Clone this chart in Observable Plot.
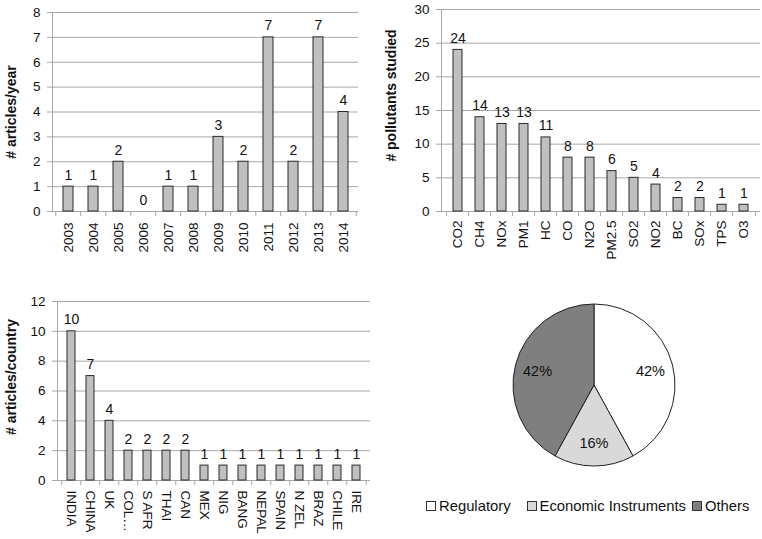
<!DOCTYPE html>
<html><head><meta charset="utf-8">
<script src="https://cdn.jsdelivr.net/npm/d3@7"></script>
<script src="https://cdn.jsdelivr.net/npm/@observablehq/plot@0.6"></script>
<style>
html,body{margin:0;padding:0;background:#fff;}
#wrap{position:relative;width:762px;height:539px;font-family:"Liberation Sans",Arial,sans-serif;}
.panel{position:absolute;}
#legend{position:absolute;left:426px;top:498px;font-size:14.8px;color:#111;white-space:nowrap;display:flex;align-items:center;}
#legend .sw{display:inline-block;width:8px;height:8px;border:1px solid #333;margin-right:3px;}
#legend .it{display:inline-flex;align-items:center;}
</style></head>
<body><div id="wrap"></div>
<script>
const years = ["2003","2004","2005","2006","2007","2008","2009","2010","2011","2012","2013","2014"];
const articlesPerYear = [1,1,2,0,1,1,3,2,7,2,7,4];
const pollutants = ["CO2","CH4","NOx","PM1","HC","CO","N2O","PM2.5","SO2","NO2","BC","SOx","TPS","O3"];
const pollutantCounts = [24,14,13,13,11,8,8,6,5,4,2,2,1,1];
const countries = ["INDIA","CHINA","UK","COL…","S AFR","THAI","CAN","MEX","NIG","BANG","NEPAL","SPAIN","N ZEL","BRAZ","CHILE","IRE"];
const countryCounts = [10,7,4,2,2,2,2,1,1,1,1,1,1,1,1,1];
const pieLabels = ["Regulatory","Economic Instruments","Others"];
const pieValues = [42,16,42];
const pieColors = ["#ffffff","#d9d9d9","#7f7f7f"];

const wrap = document.getElementById("wrap");
const FONT = '"Liberation Sans", Arial, sans-serif';

function barPanel({cats, vals, left, top, width, height, ml, mr, mt, mb, ymax, yticks, title, titleDx, titleDy, rotate, tickPad}) {
  const data = cats.map((c,i)=>({c, v: vals[i]}));
  const step = (width - ml - mr) / cats.length;
  const plotH = height - mt - mb;
  const grid = "#a8a8a8";
  const p = Plot.plot({
    width, height, marginLeft: ml, marginRight: mr, marginTop: mt, marginBottom: mb,
    style: {fontFamily: FONT, fontSize: "13.5px", color: "#111", background: "transparent", overflow: "visible"},
    x: {domain: cats, type: "band", paddingInner: 0.6, paddingOuter: 0.3, label: null},
    y: {domain: [0, ymax], label: null},
    marks: [
      Plot.gridY(yticks, {stroke: grid, strokeOpacity: 1}),
      Plot.frame({anchor: "left", stroke: grid}),
      Plot.axisY(yticks, {tickSize: 5, tickPadding: 7, stroke: grid, label: null, fontSize: 13.5}),
      Plot.axisX({tickSize: 0, tickPadding: tickPad, tickRotate: rotate, label: null, fontSize: 13.5}),
      Plot.ruleX(cats, {x: d=>d, dx: -step/2, insetTop: plotH, insetBottom: -5, stroke: grid}),
      Plot.ruleX([cats[cats.length-1]], {x: d=>d, dx: step/2, insetTop: plotH, insetBottom: -5, stroke: grid}),
      Plot.barY(data, {x: "c", y: "v", fill: "#c0c0c0", stroke: "#2a2a2a", strokeWidth: 1}),
      Plot.text(data, {x: "c", y: "v", text: d=>String(d.v), lineAnchor: "bottom", dy: -7, fontSize: 14, fill: "#111"}),
      Plot.text([title], {frameAnchor: "left", textAnchor: "middle", text: d=>d, rotate: -90, dx: titleDx, dy: titleDy, fontWeight: "bold", fontSize: 14, fill: "#111"})
    ]
  });
  p.classList.add("panel");
  p.style.left = left + "px"; p.style.top = top + "px";
  wrap.appendChild(p);
}

barPanel({cats: years, vals: articlesPerYear, left: 0, top: 0, width: 381, height: 262,
  ml: 52, mr: 23, mt: 12, mb: 51, ymax: 8, yticks: d3.range(0, 9, 1),
  title: "# articles/year", titleDx: -41, titleDy: 0, rotate: -90, tickPad: 11});

barPanel({cats: pollutants, vals: pollutantCounts, left: 381, top: 0, width: 381, height: 262,
  ml: 60, mr: 2, mt: 9, mb: 51, ymax: 30, yticks: d3.range(0, 31, 5),
  title: "# pollutants studied", titleDx: -50, titleDy: -15, rotate: -90, tickPad: 9});

barPanel({cats: countries, vals: countryCounts, left: 0, top: 262, width: 381, height: 277,
  ml: 57, mr: 11, mt: 39, mb: 59, ymax: 12, yticks: d3.range(0, 13, 2),
  title: "# articles/country", titleDx: -46, titleDy: -14, rotate: 90, tickPad: 10});

// Pie panel
const pieData = pieLabels.map((l,i)=>({l, v: pieValues[i], c: pieColors[i]}));
const pie = Plot.plot({
  width: 381, height: 277, margin: 0,
  style: {fontFamily: FONT, background: "transparent", overflow: "visible"},
  x: {domain: [0, 381], axis: null},
  y: {domain: [0, 277], axis: null, reverse: true},
  marks: [
    (index, scales, values, dims) => {
      const cx = 213, cy = 123, r = 81;
      const arcs = d3.pie().sort(null).value(d=>d.v)(pieData);
      const arc = d3.arc().innerRadius(0).outerRadius(r);
      const lab = d3.arc().innerRadius(r*0.72).outerRadius(r*0.72);
      const g = d3.create("svg:g").attr("transform", `translate(${cx},${cy})`);
      g.selectAll("path").data(arcs).join("path")
        .attr("d", arc).attr("fill", d=>d.data.c).attr("stroke", "#222").attr("stroke-width", 1);
      g.selectAll("text").data(arcs).join("text")
        .attr("transform", d=>`translate(${lab.centroid(d)})`)
        .attr("text-anchor", "middle").attr("dy", "0.35em")
        .attr("font-size", 14.5).attr("fill", "#111")
        .text(d=>Math.round(d.data.v) + "%");
      return g.node();
    }
  ]
});
pie.classList.add("panel");
pie.style.left = "381px"; pie.style.top = "262px";
wrap.appendChild(pie);

const legend = document.createElement("div");
legend.id = "legend";
const gaps = [16, 6, 0];
pieData.forEach((d,i)=>{
  const it = document.createElement("span"); it.className = "it";
  it.style.marginRight = gaps[i] + "px";
  const sw = document.createElement("span"); sw.className = "sw"; sw.style.background = d.c;
  it.appendChild(sw); it.appendChild(document.createTextNode(d.l));
  legend.appendChild(it);
});
wrap.appendChild(legend);
</script></body></html>
